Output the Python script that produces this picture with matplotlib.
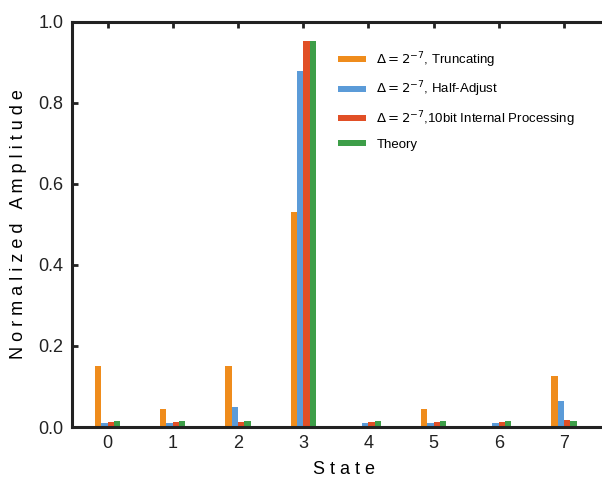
import numpy as np
import matplotlib
matplotlib.use("Agg")
from matplotlib import pyplot as plt

states = [0, 1, 2, 3, 4, 5, 6, 7]

truncating = [0.150, 0.044, 0.150, 0.530, 0.000, 0.044, 0.000, 0.127]
half_adjust = [0.010, 0.010, 0.050, 0.880, 0.010, 0.010, 0.010, 0.065]
internal_10bit = [0.012, 0.012, 0.012, 0.952, 0.012, 0.012, 0.012, 0.018]
theory = [0.015, 0.015, 0.015, 0.952, 0.015, 0.015, 0.015, 0.015]

labels = [r"$\Delta = 2^{-7}$, Truncating",
          r"$\Delta = 2^{-7}$, Half-Adjust",
          r"$\Delta = 2^{-7}$,10bit Internal Processing",
          "Theory"]
colors = ["#ef8c1c", "#5b9bd8", "#e14f26", "#3d9e48"]

plt.rcParams['font.family'] = ['Liberation Sans', 'DejaVu Sans']

fig = plt.figure(figsize=(6.02, 4.88), dpi=100)
ax = fig.add_axes([0.1196, 0.125, 0.904, 0.830])
ax.set_axisbelow(True)  # keep inward bottom ticks behind the bars

x = np.array(states)
w = 0.097
series = [truncating, half_adjust, internal_10bit, theory]
for k, (vals, c, lab) in enumerate(zip(series, colors, labels)):
    ax.bar(x + (k - 1.5) * w, vals, width=w, color=c, label=lab, linewidth=0)

ax.set_xlim(-0.545, 7.8)
ax.set_ylim(0, 1.0)
ax.set_xticks(states)
ax.set_yticks([0.0, 0.2, 0.4, 0.6, 0.8, 1.0])
ax.set_yticklabels(["0.0", "0.2", "0.4", "0.6", "0.8", "1.0"])

for s in ax.spines.values():
    s.set_linewidth(2.2)
    s.set_color("#222222")
    s.set_zorder(3)

ax.tick_params(direction="in", top=True, right=True, length=4, width=2,
               labelsize=13, colors="#222222", pad=6)
ax.tick_params(axis="x", bottom=False)

ax.set_xlabel("S t a t e", fontsize=13, labelpad=6)
ax.set_ylabel("N o r m a l i z e d   A m p l i t u d e", fontsize=13, labelpad=8)

ax.legend(loc="upper left", bbox_to_anchor=(0.489, 0.93), frameon=False,
          fontsize=9.5, handlelength=2.1, handleheight=0.32, labelspacing=0.75,
          handletextpad=0.8, borderpad=0, borderaxespad=0)

fig.savefig("out.png", dpi=100)
